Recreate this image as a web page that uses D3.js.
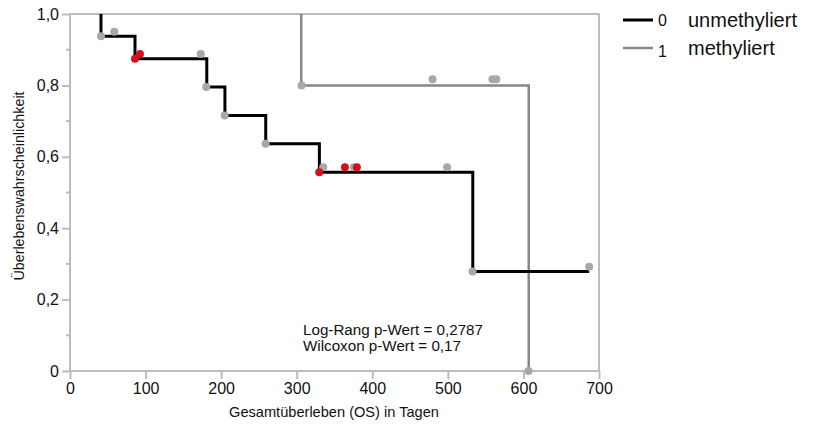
<!DOCTYPE html>
<html>
<head>
<meta charset="utf-8">
<script src="https://cdn.jsdelivr.net/npm/d3@7"></script>
<style>
  body { margin: 0; background: #fff; }
  text { font-family: "Liberation Sans", Arial, sans-serif; fill: #111; }
</style>
</head>
<body>
<svg width="815" height="424"></svg>
<script>
// Kaplan-Meier drops per group: event time and survival after the drop
const unmethTimes = [41, 86, 181, 205, 259, 330, 533, 687];
const unmethSurv = [0.9375, 0.875, 0.7955, 0.7159, 0.6364, 0.5568, 0.2784, 0.2784];
const methTimes = [306, 607];
const methSurv = [0.8, 0];

// marker points (time, survival)
const grayTimes = [41, 58.6, 173, 180.3, 204.6, 258.8, 306.4, 479.7, 559, 564, 335, 375.6, 499, 532.6, 687, 606.7];
const grayVals = [0.9375, 0.95, 0.888, 0.7955, 0.7159, 0.6364, 0.8, 0.817, 0.817, 0.817, 0.571, 0.571, 0.571, 0.2784, 0.292, 0];
const redTimes = [86, 92.6, 329.8, 363.8, 379.6];
const redVals = [0.875, 0.888, 0.5568, 0.571, 0.571];

const xTicks = [0, 100, 200, 300, 400, 500, 600, 700];
const yTicks = [0, 0.2, 0.4, 0.6, 0.8, 1.0];
const yMinor = [0.1, 0.3, 0.5, 0.7, 0.9];

const legendKeys = ["0", "1"];
const legendNames = ["unmethyliert", "methyliert"];
const statLines = ["Log-Rang p-Wert = 0,2787", "Wilcoxon p-Wert = 0,17"];

const svg = d3.select("svg");
const x = d3.scaleLinear().domain([0, 700]).range([70, 599]);
const y = d3.scaleLinear().domain([0, 1]).range([371, 14]);
const frameColor = "#bcbcbc";

const line = d3.line()
    .x(d => x(d[0]))
    .y(d => y(d[1]))
    .curve(d3.curveStepAfter);

// curve starts at 1 at the first event time
function steps(times, surv) {
    return [[times[0], 1]].concat(times.map((t, i) => [t, surv[i]]));
}

// frame
svg.append("rect")
    .attr("x", x(0)).attr("y", y(1))
    .attr("width", x(700) - x(0)).attr("height", y(0) - y(1))
    .attr("fill", "none")
    .attr("stroke", frameColor)
    .attr("stroke-width", 2);

svg.append("path")
    .datum(steps(methTimes, methSurv))
    .attr("d", line)
    .attr("fill", "none")
    .attr("stroke", "#878787")
    .attr("stroke-width", 2.5);

svg.append("path")
    .datum(steps(unmethTimes, unmethSurv))
    .attr("d", line)
    .attr("fill", "none")
    .attr("stroke", "#000")
    .attr("stroke-width", 3);

// axes
const yAxis = svg.append("g")
    .attr("transform", `translate(${x(0)},0)`)
    .call(d3.axisLeft(y).tickValues(yTicks).tickSize(8).tickPadding(3)
        .tickFormat(d => d === 0 ? "0" : d3.format(".1f")(d).replace(".", ",")));
yAxis.select(".domain").remove();
yAxis.selectAll("line").attr("stroke", frameColor).attr("stroke-width", 2);
yAxis.selectAll("text").style("font-size", "16px").attr("fill", "#111");

svg.append("g").selectAll("line")
    .data(yMinor)
    .enter().append("line")
    .attr("x1", x(0) - 4).attr("x2", x(0))
    .attr("y1", d => y(d)).attr("y2", d => y(d))
    .attr("stroke", frameColor).attr("stroke-width", 2);

const xAxis = svg.append("g")
    .attr("transform", `translate(0,${y(0)})`)
    .call(d3.axisBottom(x).tickValues(xTicks).tickSize(8).tickPadding(4));
xAxis.select(".domain").remove();
xAxis.selectAll("line").attr("stroke", frameColor).attr("stroke-width", 2);
xAxis.selectAll("text").style("font-size", "16px").attr("fill", "#111");

// markers
svg.append("g").selectAll("circle")
    .data(grayTimes.map((t, i) => [t, grayVals[i]]))
    .enter().append("circle")
    .attr("cx", d => x(d[0]))
    .attr("cy", d => y(d[1]))
    .attr("r", 4)
    .attr("fill", "#a8a8a8");

svg.append("g").selectAll("circle")
    .data(redTimes.map((t, i) => [t, redVals[i]]))
    .enter().append("circle")
    .attr("cx", d => x(d[0]))
    .attr("cy", d => y(d[1]))
    .attr("r", 4)
    .attr("fill", "#d2111d");

// axis titles
svg.append("text")
    .attr("transform", "translate(24,186) rotate(-90)")
    .attr("text-anchor", "middle")
    .style("font-size", "14.3px")
    .text("Überlebenswahrscheinlichkeit");

svg.append("text")
    .attr("x", 334).attr("y", 417)
    .attr("text-anchor", "middle")
    .style("font-size", "14.6px")
    .text("Gesamtüberleben (OS) in Tagen");

// stats annotation
svg.append("g").selectAll("text")
    .data(statLines)
    .enter().append("text")
    .attr("x", 303)
    .attr("y", (d, i) => 335 + i * 16)
    .style("font-size", "15.2px")
    .text(d => d);

// legend
const legend = svg.append("g").selectAll("g")
    .data(legendKeys)
    .enter().append("g")
    .attr("transform", (d, i) => `translate(623,${20 + i * 28})`);

legend.append("line")
    .attr("x1", 0).attr("x2", 30)
    .attr("stroke", (d, i) => i === 0 ? "#000" : "#878787")
    .attr("stroke-width", (d, i) => i === 0 ? 3 : 2.5);

legend.append("text")
    .attr("x", 35)
    .attr("y", (d, i) => i === 0 ? 6 : 9)
    .style("font-size", "16px")
    .text(d => d);

legend.append("text")
    .attr("x", 65)
    .attr("y", 7)
    .style("font-size", "20px")
    .text((d, i) => legendNames[i]);
</script>
</body>
</html>
